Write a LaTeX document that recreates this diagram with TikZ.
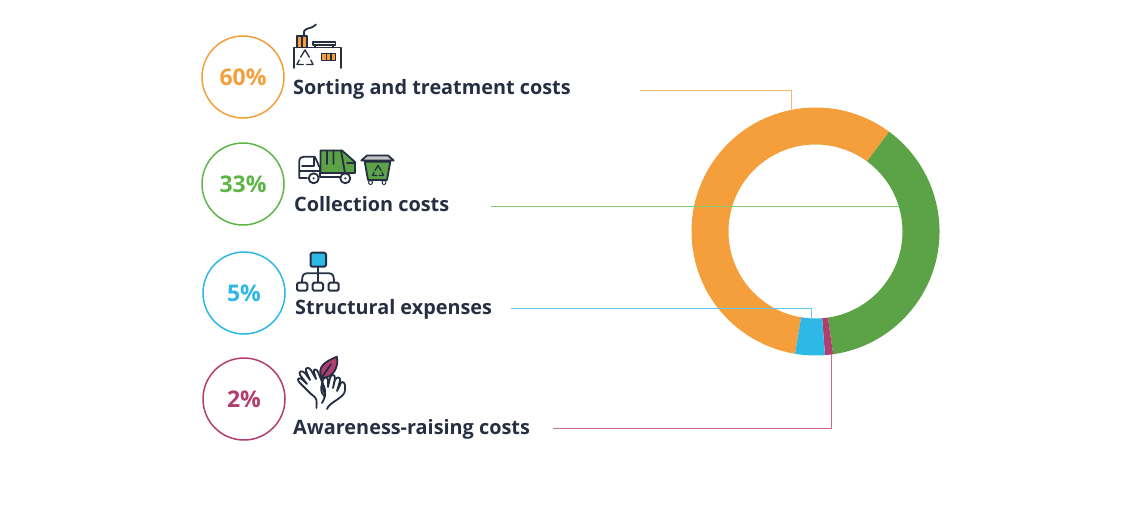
\documentclass[tikz,border=0pt]{standalone}
\usepackage{fontspec}
\setmainfont{Open Sans}
\definecolor{sortcol}{HTML}{F59F3C}
\definecolor{collcol}{HTML}{5BA346}
\definecolor{collring}{HTML}{5FB648}
\definecolor{structcol}{HTML}{2DB8E6}
\definecolor{awarecol}{HTML}{B23E70}
\definecolor{inkcol}{HTML}{262F42}
\tikzset{
	pctring/.style={circle,draw=#1,text=#1,line width=1.5pt,minimum size=82pt,inner sep=0pt,font=\fontsize{23}{23}\selectfont\bfseries},
	costlabel/.style={anchor=base west,inner sep=0pt,text=inkcol,font=\fontsize{19.85}{20}\selectfont\bfseries},
	leader/.style={#1!75!white,line width=0.9pt},
	icon/.style={draw=inkcol,line width=1.8pt,line join=round,line cap=round},
}
\newcommand{\recycletri}[3]{% centre x, centre y, half width
	\draw[icon,line width=1.3pt] (#1-0.55*#3,#2-0.1*#3) -- (#1,#2-#3) -- (#1+0.55*#3,#2-0.1*#3)
		(#1-0.72*#3,#2+0.25*#3) -- (#1-#3,#2+0.8*#3) -- (#1-0.2*#3,#2+0.8*#3)
		(#1+0.72*#3,#2+0.25*#3) -- (#1+#3,#2+0.8*#3) -- (#1+0.2*#3,#2+0.8*#3);
}
\newcommand{\donutpart}[3]{% from angle, to angle, colour
	\fill[#3] (#1:124) arc (#1:#2:124) -- (#2:87) arc (#2:#1:87) -- cycle;
}
\begin{document}
\begin{tikzpicture}[x=1pt,y=-1pt]
	\useasboundingbox (0,0) rectangle (1140,506);

	% ring
	\begin{scope}[shift={(815.5,231.5)},y=1pt]
		\donutpart{53.6}{260.5}{sortcol}
		\donutpart{-81.8}{53.6}{collcol}
		\donutpart{-85.6}{-81.8}{awarecol}
		\donutpart{-99.5}{-85.6}{structcol}
	\end{scope}

	\node[pctring=sortcol] (sortpct) at (243,77) {60\%};
	\node[pctring=collring] (collpct) at (243,184) {33\%};
	\node[pctring=structcol] (structpct) at (244,293) {5\%};
	\node[pctring=awarecol] (awarepct) at (244,399) {2\%};

	\node[costlabel] (sortlabel) at (293,94) {Sorting and treatment costs};
	\node[costlabel] (colllabel) at (294,211) {Collection costs};
	\node[costlabel] (structlabel) at (295,314) {Structural expenses};
	\node[costlabel] (awarelabel) at (293,434) {Awareness-raising costs};

	% leaders
	\coordinate (sortfrom) at (640,90);
	\coordinate (sortto) at (791,111);
	\coordinate (collfrom) at (491,206);
	\coordinate (collto) at (899,206);
	\coordinate (structfrom) at (511,308);
	\coordinate (structto) at (811,318);
	\coordinate (awarefrom) at (553,428);
	\coordinate (awareto) at (831,354);
	\draw[leader=sortcol] (sortfrom) -| (sortto);
	\draw[leader=collring] (collfrom) -- (collto);
	\draw[leader=structcol] (structfrom) -| (structto);
	\draw[leader=awarecol] (awarefrom) -| (awareto);

	% factory
	\fill[sortcol] (296.7,35.7) rectangle (307.3,47.5);
	\draw[icon] (296.7,47.5) -- (296.7,35.7) -- (307.3,35.7) -- (307.3,47.5) (302,35.7) -- (302,47.5);
	\draw[icon] (304,35) .. controls (303,26) and (309,31) .. (316,24.5);
	\draw[icon] (294,68) -- (294,47.5) -- (340.7,47.5) -- (340.7,68);
	\draw[icon] (312.7,41.7) rectangle (335.5,45) (315,45) -- (315,47.5) (333,45) -- (333,47.5);
	\recycletri{305}{58}{8}
	\fill[sortcol] (321.7,53.3) rectangle (335.7,60.5);
	\draw[icon,line width=1.2pt] (321.7,53.3) rectangle (335.7,60.5) (326.3,53.3) -- (326.3,60.5) (331,53.3) -- (331,60.5);

	% truck and bin
	\fill[collcol] (320.5,150.5) -- (342,150.5) -- (355,162) -- (355,173) -- (320.5,173) -- cycle;
	\draw[icon] (320.5,173) -- (320.5,150.5) -- (342,150.5) -- (355,162) -- (355,173) -- (320.5,173);
	\draw[icon] (327,150.5) -- (327,164) (333.5,150.5) -- (333.5,164) (341,150.5) -- (345,173) (347,163) -- (355,163);
	\draw[icon] (307,178) -- (299.3,178) -- (299.3,161.7) .. controls (299.3,158) and (301,156.7) .. (304,156.7) -- (314.7,156.7) -- (320,168) (302,166) -- (314,166) -- (314,158);
	\draw[icon] (320,177) -- (340,177) (320,168) -- (320,177) (299.3,171) -- (320,171);
	\draw[icon,fill=white] (313.7,178.3) circle (5) (345.3,178.3) circle (5);
	\fill[inkcol] (313.7,178.3) circle (1.2) (345.3,178.3) circle (1.2);
	\fill[collcol] (364.7,161.7) -- (390.3,161.7) -- (387,180) -- (368,180) -- cycle;
	\draw[icon] (364.7,161.7) -- (390.3,161.7) -- (387,180) -- (368,180) -- cycle;
	\draw[icon,fill=gray!45] (361.3,160.5) -- (367,155.5) -- (388,155.5) -- (393.7,160.5) -- cycle;
	\recycletri{378}{171}{5.5}
	\draw[icon,line width=1pt,fill=white] (370.5,182.5) circle (2) (384,182.5) circle (2);

	% hierarchy
	\draw[icon] (318,266.7) -- (318,282);
	\draw[icon] (302,282) .. controls (302,276) and (303,273.3) .. (307,273.3) -- (329,273.3) .. controls (333,273.3) and (334,276) .. (334,282);
	\draw[icon,line width=2pt,fill=structcol,rounded corners=1.5pt] (310.5,252.7) rectangle (326,266.7);
	\draw[icon,line width=2pt,rounded corners=1.5pt] (297,282.7) rectangle (307.3,290.7) (312.7,282.7) rectangle (323,290.7) (328.5,282.7) rectangle (338.7,290.7);

	% hands and leaf
	\draw[icon,fill=awarecol] (321.5,378) .. controls (317,366) and (325,362) .. (336.8,356.7) .. controls (339,366) and (334,378) .. (321.5,378) -- cycle;
	\draw[icon] (331,364) -- (321.5,378) -- (323.5,392);
	\draw[icon] (316.5,408) .. controls (316.5,400) and (318,399) .. (311,394) -- (299,382)
		.. controls (296,378) and (300,377) .. (303,380) -- (307,384) -- (300,375) .. controls (298,371) and (302,370) .. (305,373) -- (310,380)
		-- (306,371) .. controls (305,367) and (309,367) .. (311,370) -- (316,379) -- (314,372) .. controls (313,368) and (317,369) .. (318,372)
		-- (323,384) .. controls (327,392) and (325,398) .. (322,403);
	\draw[icon] (327,409) .. controls (329,402) and (345,398) .. (345,390) -- (345,385)
		.. controls (344,381) and (341,381) .. (340,385) -- (337,391) -- (340,381) .. controls (341,377) and (337,376) .. (335,380) -- (333,388)
		-- (335,378) .. controls (335,374) and (331,374) .. (330,378) -- (328,387) -- (328,380) .. controls (327,376) and (324,377) .. (323,380)
		.. controls (322,385) and (320,388) .. (322,393) -- (325,397);
\end{tikzpicture}
\end{document}
